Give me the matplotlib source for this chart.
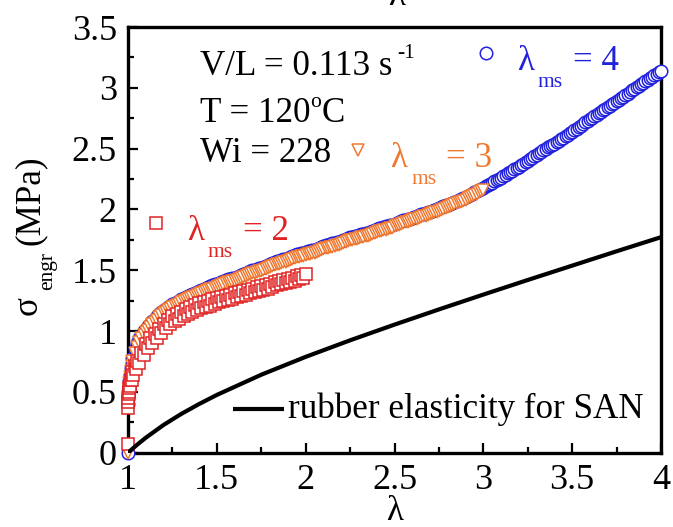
import matplotlib
matplotlib.use("Agg")
import matplotlib.pyplot as plt
from matplotlib.ticker import MultipleLocator

plt.rcParams["font.family"] = ["Liberation Serif", "DejaVu Serif"]

# ---- stress-stretch data: stretch ratio and engineering stress (MPa) ----
# lambda_ms = 4
lam_ms4 = [1.000, 1.000, 1.002, 1.004, 1.007, 1.010, 1.015, 1.020, 1.025, 1.0375, 1.050, 1.0625, 1.075, 1.0875,
           1.1000, 1.1125, 1.1250, 1.1375, 1.1500, 1.1625, 1.1750, 1.1875,
           1.2000, 1.2125, 1.2250, 1.2375, 1.2500, 1.2625, 1.2750, 1.2875,
           1.3000, 1.3125, 1.3250, 1.3375, 1.3500, 1.3625, 1.3750, 1.3875,
           1.4000, 1.4125, 1.4250, 1.4375, 1.4500, 1.4625, 1.4750, 1.4875,
           1.5000, 1.5125, 1.5250, 1.5375, 1.5500, 1.5625, 1.5750, 1.5875,
           1.6000, 1.6125, 1.6250, 1.6375, 1.6500, 1.6625, 1.6750, 1.6875,
           1.7000, 1.7125, 1.7250, 1.7375, 1.7500, 1.7625, 1.7750, 1.7875,
           1.8000, 1.8125, 1.8250, 1.8375, 1.8500, 1.8625, 1.8750, 1.8875,
           1.9000, 1.9125, 1.9250, 1.9375, 1.9500, 1.9625, 1.9750, 1.9875,
           2.0000, 2.0125, 2.0250, 2.0375, 2.0500, 2.0625, 2.0750, 2.0875,
           2.1000, 2.1125, 2.1250, 2.1375, 2.1500, 2.1625, 2.1750, 2.1875,
           2.2000, 2.2125, 2.2250, 2.2375, 2.2500, 2.2625, 2.2750, 2.2875,
           2.3000, 2.3125, 2.3250, 2.3375, 2.3500, 2.3625, 2.3750, 2.3875,
           2.4000, 2.4125, 2.4250, 2.4375, 2.4500, 2.4625, 2.4750, 2.4875,
           2.5000, 2.5125, 2.5250, 2.5375, 2.5500, 2.5625, 2.5750, 2.5875,
           2.6000, 2.6125, 2.6250, 2.6375, 2.6500, 2.6625, 2.6750, 2.6875,
           2.7000, 2.7125, 2.7250, 2.7375, 2.7500, 2.7625, 2.7750, 2.7875,
           2.8000, 2.8125, 2.8250, 2.8375, 2.8500, 2.8625, 2.8750, 2.8875,
           2.9000, 2.9125, 2.9250, 2.9375, 2.9500, 2.9625, 2.9750, 2.9875,
           3.0000, 3.0125, 3.0250, 3.0375, 3.0500, 3.0625, 3.0750, 3.0875,
           3.1000, 3.1125, 3.1250, 3.1375, 3.1500, 3.1625, 3.1750, 3.1875,
           3.2000, 3.2125, 3.2250, 3.2375, 3.2500, 3.2625, 3.2750, 3.2875,
           3.3000, 3.3125, 3.3250, 3.3375, 3.3500, 3.3625, 3.3750, 3.3875,
           3.4000, 3.4125, 3.4250, 3.4375, 3.4500, 3.4625, 3.4750, 3.4875,
           3.5000, 3.5125, 3.5250, 3.5375, 3.5500, 3.5625, 3.5750, 3.5875,
           3.6000, 3.6125, 3.6250, 3.6375, 3.6500, 3.6625, 3.6750, 3.6875,
           3.7000, 3.7125, 3.7250, 3.7375, 3.7500, 3.7625, 3.7750, 3.7875,
           3.8000, 3.8125, 3.8250, 3.8375, 3.8500, 3.8625, 3.8750, 3.8875,
           3.9000, 3.9125, 3.9250, 3.9375, 3.9500, 3.9625, 3.9750, 3.9875,
           4.0000]
sig_ms4 = [0.00, 0.40, 0.47, 0.53, 0.59, 0.64, 0.70, 0.74, 0.78, 0.85, 0.90, 0.94, 0.97, 1.00,
           1.020, 1.040, 1.060, 1.080, 1.100, 1.120, 1.140, 1.155,
           1.170, 1.185, 1.200, 1.210, 1.220, 1.230, 1.240, 1.250,
           1.260, 1.270, 1.280, 1.290, 1.300, 1.308, 1.315, 1.323,
           1.330, 1.338, 1.345, 1.353, 1.360, 1.368, 1.375, 1.383,
           1.390, 1.398, 1.405, 1.413, 1.420, 1.425, 1.430, 1.435,
           1.440, 1.448, 1.455, 1.463, 1.470, 1.478, 1.485, 1.493,
           1.500, 1.505, 1.510, 1.515, 1.520, 1.528, 1.535, 1.543,
           1.550, 1.558, 1.565, 1.573, 1.580, 1.585, 1.590, 1.595,
           1.600, 1.608, 1.615, 1.623, 1.630, 1.635, 1.640, 1.645,
           1.650, 1.655, 1.660, 1.665, 1.670, 1.678, 1.685, 1.693,
           1.700, 1.705, 1.710, 1.715, 1.720, 1.725, 1.730, 1.735,
           1.740, 1.748, 1.755, 1.763, 1.770, 1.775, 1.780, 1.785,
           1.790, 1.795, 1.800, 1.805, 1.810, 1.818, 1.825, 1.833,
           1.840, 1.845, 1.850, 1.855, 1.860, 1.865, 1.870, 1.875,
           1.880, 1.888, 1.895, 1.903, 1.910, 1.915, 1.920, 1.925,
           1.930, 1.938, 1.945, 1.953, 1.960, 1.965, 1.970, 1.975,
           1.980, 1.988, 1.995, 2.003, 2.010, 2.018, 2.025, 2.033,
           2.040, 2.048, 2.055, 2.063, 2.070, 2.078, 2.085, 2.093,
           2.100, 2.110, 2.120, 2.130, 2.140, 2.150, 2.160, 2.170,
           2.180, 2.190, 2.200, 2.210, 2.220, 2.230, 2.240, 2.250,
           2.260, 2.273, 2.285, 2.298, 2.310, 2.320, 2.330, 2.340,
           2.350, 2.363, 2.375, 2.388, 2.400, 2.413, 2.425, 2.438,
           2.450, 2.463, 2.475, 2.488, 2.500, 2.510, 2.520, 2.530,
           2.540, 2.553, 2.565, 2.578, 2.590, 2.603, 2.615, 2.628,
           2.640, 2.653, 2.665, 2.678, 2.690, 2.703, 2.715, 2.728,
           2.740, 2.753, 2.765, 2.778, 2.790, 2.803, 2.815, 2.828,
           2.840, 2.853, 2.865, 2.878, 2.890, 2.903, 2.915, 2.928,
           2.940, 2.953, 2.965, 2.978, 2.990, 3.003, 3.015, 3.028,
           3.040, 3.053, 3.065, 3.078, 3.090, 3.103, 3.115, 3.128,
           3.140]

# lambda_ms = 3
lam_ms3 = [1.000, 1.000, 1.002, 1.004, 1.007, 1.010, 1.015, 1.020, 1.025, 1.0375, 1.050, 1.0625, 1.075, 1.0875,
           1.1000, 1.1125, 1.1250, 1.1375, 1.1500, 1.1625, 1.1750, 1.1875,
           1.2000, 1.2125, 1.2250, 1.2375, 1.2500, 1.2625, 1.2750, 1.2875,
           1.3000, 1.3125, 1.3250, 1.3375, 1.3500, 1.3625, 1.3750, 1.3875,
           1.4000, 1.4125, 1.4250, 1.4375, 1.4500, 1.4625, 1.4750, 1.4875,
           1.5000, 1.5125, 1.5250, 1.5375, 1.5500, 1.5625, 1.5750, 1.5875,
           1.6000, 1.6125, 1.6250, 1.6375, 1.6500, 1.6625, 1.6750, 1.6875,
           1.7000, 1.7125, 1.7250, 1.7375, 1.7500, 1.7625, 1.7750, 1.7875,
           1.8000, 1.8125, 1.8250, 1.8375, 1.8500, 1.8625, 1.8750, 1.8875,
           1.9000, 1.9125, 1.9250, 1.9375, 1.9500, 1.9625, 1.9750, 1.9875,
           2.0000, 2.0125, 2.0250, 2.0375, 2.0500, 2.0625, 2.0750, 2.0875,
           2.1000, 2.1125, 2.1250, 2.1375, 2.1500, 2.1625, 2.1750, 2.1875,
           2.2000, 2.2125, 2.2250, 2.2375, 2.2500, 2.2625, 2.2750, 2.2875,
           2.3000, 2.3125, 2.3250, 2.3375, 2.3500, 2.3625, 2.3750, 2.3875,
           2.4000, 2.4125, 2.4250, 2.4375, 2.4500, 2.4625, 2.4750, 2.4875,
           2.5000, 2.5125, 2.5250, 2.5375, 2.5500, 2.5625, 2.5750, 2.5875,
           2.6000, 2.6125, 2.6250, 2.6375, 2.6500, 2.6625, 2.6750, 2.6875,
           2.7000, 2.7125, 2.7250, 2.7375, 2.7500, 2.7625, 2.7750, 2.7875,
           2.8000, 2.8125, 2.8250, 2.8375, 2.8500, 2.8625, 2.8750, 2.8875,
           2.9000, 2.9125, 2.9250, 2.9375, 2.9500, 2.9625, 2.9750, 2.9875,
           3.0000]
sig_ms3 = [0.00, 0.42, 0.47, 0.52, 0.57, 0.62, 0.67, 0.71, 0.75, 0.82, 0.87, 0.91, 0.94, 0.965,
           0.990, 1.010, 1.035, 1.055, 1.075, 1.095, 1.115, 1.130,
           1.145, 1.160, 1.175, 1.185, 1.195, 1.205, 1.215, 1.225,
           1.235, 1.245, 1.255, 1.265, 1.275, 1.283, 1.290, 1.298,
           1.305, 1.313, 1.320, 1.328, 1.335, 1.343, 1.350, 1.358,
           1.365, 1.373, 1.380, 1.388, 1.395, 1.400, 1.405, 1.410,
           1.415, 1.423, 1.430, 1.438, 1.445, 1.453, 1.460, 1.468,
           1.475, 1.480, 1.485, 1.490, 1.495, 1.503, 1.510, 1.518,
           1.525, 1.533, 1.540, 1.548, 1.555, 1.560, 1.565, 1.570,
           1.575, 1.583, 1.590, 1.598, 1.605, 1.610, 1.615, 1.620,
           1.625, 1.630, 1.635, 1.640, 1.645, 1.653, 1.660, 1.668,
           1.675, 1.680, 1.685, 1.690, 1.695, 1.700, 1.705, 1.710,
           1.715, 1.723, 1.730, 1.738, 1.745, 1.750, 1.755, 1.760,
           1.765, 1.770, 1.775, 1.780, 1.785, 1.793, 1.800, 1.808,
           1.815, 1.820, 1.825, 1.830, 1.835, 1.840, 1.845, 1.850,
           1.860, 1.868, 1.875, 1.883, 1.890, 1.895, 1.900, 1.905,
           1.910, 1.918, 1.925, 1.933, 1.940, 1.945, 1.950, 1.955,
           1.960, 1.968, 1.975, 1.983, 1.990, 1.998, 2.005, 2.013,
           2.020, 2.028, 2.035, 2.043, 2.050, 2.058, 2.065, 2.073,
           2.080, 2.090, 2.100, 2.110, 2.120, 2.130, 2.140, 2.150,
           2.160]

# lambda_ms = 2 (noisier record)
lam_ms2 = [1.000, 1.000, 1.001, 1.002, 1.003, 1.005, 1.007, 1.010, 1.0125, 1.015, 1.020, 1.025, 1.030,
           1.0375, 1.045, 1.050, 1.0625, 1.075, 1.0875,
           1.1000, 1.1125, 1.1250, 1.1375, 1.1500, 1.1625, 1.1750, 1.1875,
           1.2000, 1.2125, 1.2250, 1.2375, 1.2500, 1.2625, 1.2750, 1.2875,
           1.3000, 1.3125, 1.3250, 1.3375, 1.3500, 1.3625, 1.3750, 1.3875,
           1.4000, 1.4125, 1.4250, 1.4375, 1.4500, 1.4625, 1.4750, 1.4875,
           1.5000, 1.5125, 1.5250, 1.5375, 1.5500, 1.5625, 1.5750, 1.5875,
           1.6000, 1.6125, 1.6250, 1.6375, 1.6500, 1.6625, 1.6750, 1.6875,
           1.7000, 1.7125, 1.7250, 1.7375, 1.7500, 1.7625, 1.7750, 1.7875,
           1.8000, 1.8125, 1.8250, 1.8375, 1.8500, 1.8625, 1.8750, 1.8875,
           1.9000, 1.9125, 1.9250, 1.9375, 1.9500, 1.9625, 1.9750, 1.9875,
           2.0000]
sig_ms2 = [0.07, 0.37, 0.42, 0.45, 0.48, 0.50, 0.53, 0.56, 0.55, 0.60, 0.60, 0.66, 0.64,
           0.71, 0.69, 0.75, 0.74, 0.82, 0.80,
           0.890, 0.860, 0.940, 0.905, 0.980, 0.945, 1.020, 0.985,
           1.060, 1.025, 1.090, 1.055, 1.120, 1.080, 1.140, 1.100,
           1.160, 1.120, 1.180, 1.140, 1.200, 1.160, 1.215, 1.175,
           1.230, 1.190, 1.240, 1.200, 1.250, 1.210, 1.260, 1.220,
           1.270, 1.235, 1.280, 1.245, 1.290, 1.255, 1.300, 1.265,
           1.310, 1.280, 1.320, 1.290, 1.330, 1.300, 1.340, 1.310,
           1.350, 1.320, 1.360, 1.330, 1.370, 1.340, 1.380, 1.350,
           1.390, 1.365, 1.400, 1.375, 1.410, 1.385, 1.420, 1.395,
           1.430, 1.405, 1.440, 1.415, 1.450, 1.430, 1.460, 1.440,
           1.470]

# rubber elasticity prediction for SAN
lam_rubber = [1.0, 1.05, 1.1, 1.2, 1.3, 1.4, 1.5, 1.75, 2.0, 2.25, 2.5, 2.75,
              3.0, 3.25, 3.5, 3.75, 4.0]
sig_rubber = [0.0, 0.064, 0.123, 0.228, 0.319, 0.400, 0.475, 0.641, 0.788, 0.924,
              1.053, 1.178, 1.300, 1.420, 1.538, 1.656, 1.772]

C_BLUE = "#2222dd"
C_ORANGE = "#f07830"
C_RED = "#e02424"
FS = 25.2
FS_TICK = 26
FS_SUB = 15.5
MS = 9
MEW = 1.1

W, H = 673, 527
fig = plt.figure(figsize=(W / 100, H / 100), dpi=100)
ax = fig.add_axes([128 / W, 1 - 452.7 / H, (661 - 128) / W, (452.7 - 27) / H])

ax.plot(lam_ms4, sig_ms4, linestyle="none", marker="o", ms=MS, mfc="white",
        mec=C_BLUE, mew=MEW, zorder=3, clip_on=False)
ax.plot(lam_ms3, sig_ms3, linestyle="none", marker="v", ms=MS, mfc="white",
        mec=C_ORANGE, mew=MEW, zorder=4, clip_on=False)
ax.plot(lam_ms2, sig_ms2, linestyle="none", marker="s", ms=MS, mfc="white",
        mec=C_RED, mew=MEW, zorder=5, clip_on=False)
ax.plot(lam_rubber, sig_rubber, color="black", lw=3, zorder=6, solid_capstyle="butt")

ax.set_xlim(1, 4)
ax.set_ylim(0, 3.5)
ax.xaxis.set_minor_locator(MultipleLocator(0.25))
ax.yaxis.set_minor_locator(MultipleLocator(0.25))
ax.set_xticks([1, 1.5, 2, 2.5, 3, 3.5, 4])
ax.set_xticklabels(["1", "1.5", "2", "2.5", "3", "3.5", "4"])
ax.set_yticks([0, 0.5, 1, 1.5, 2, 2.5, 3, 3.5])
ax.set_yticklabels(["0", "0.5", "1", "1.5", "2", "2.5", "3", "3.5"])
ax.tick_params(which="both", direction="in", top=False, right=False,
               labelsize=FS_TICK, width=1.6)
ax.tick_params(which="major", length=7, pad=8)
ax.tick_params(which="minor", length=4)
for sp in ax.spines.values():
    sp.set_linewidth(2.4)


def put(x_px, y_px, s, size=FS, color="black", **kw):
    """Place a text by its left baseline point, in pixels from the top-left."""
    return fig.text(x_px / W, 1 - y_px / H, s, fontsize=size, color=color,
                    ha=kw.pop("ha", "left"), va=kw.pop("va", "baseline"), **kw)


# axis titles
put(394.5, 520.5, "λ", ha="center")
put(28, 306, "σ", rotation=90, ha="center", va="center")
put(48, 271, "engr", size=FS_SUB, rotation=90, ha="center", va="center")
put(30, 200, "(MPa)", rotation=90, ha="center", va="center")

# experimental conditions
put(200, 75, "V/L = 0.113 s")
put(397, 58, "-1", size=FS_SUB)
put(200, 122, "T = 120")
put(310, 107, "o", size=FS_SUB)
put(322, 122, "C")
put(200, 162, "Wi = 228")


# series labels with their symbols
def series_label(xm, ym, marker, color, x_px, y_px, value):
    ax.plot([xm], [ym], linestyle="none", marker=marker, ms=MS, mfc="white",
            mec=color, mew=MEW, zorder=7)
    put(x_px, y_px, "λ", color=color)
    put(x_px + 21, y_px + 17, "ms", size=FS_SUB, color=color)
    put(x_px + 56, y_px, "= " + value, color=color)


series_label(3.015, 3.287, "o", C_BLUE, 517, 70, "4")
series_label(2.295, 2.49, "v", C_ORANGE, 390, 167, "3")
series_label(1.155, 1.886, "s", C_RED, 187, 240, "2")

# model legend
ax.plot([1.59, 1.88], [0.357, 0.357], color="black", lw=3, solid_capstyle="butt")
put(288, 418, "rubber elasticity for SAN")

# fragment of the neighbouring panel title
put(397, 5, "λ", ha="center")

fig.savefig("out.png", dpi=100)
